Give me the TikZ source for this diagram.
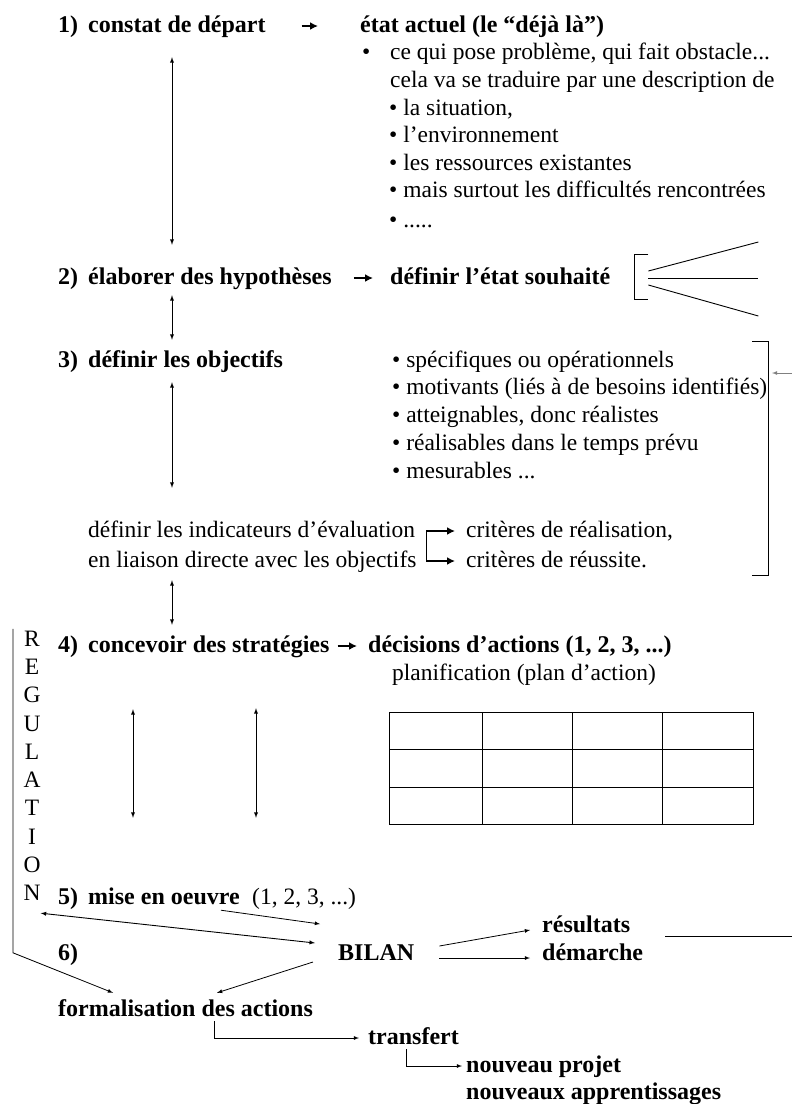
\documentclass[tikz,border=0pt]{standalone}
\usepackage{fontspec}
\setmainfont{Liberation Serif}
\usetikzlibrary{positioning,arrows,arrows.meta}

\begin{document}
\begin{tikzpicture}[x=1pt, y=-1pt, >=latex,
  txt/.style={anchor=base west, inner sep=0pt, text height=17pt, text depth=5pt, font=\fontsize{23.5}{28}\selectfont},
  gras/.style={txt, font=\fontsize{24}{28}\selectfont\bfseries},
  fl/.style={->, line width=0.8pt},
  dfl/.style={<->, line width=0.9pt},
  gros/.style={-{Latex[length=8pt,width=8pt]}, line width=2.4pt},
  trait/.style={line width=0.9pt}]
  \useasboundingbox (0,0) rectangle (792,1104);

  \node[gras] (num1) at (58,32) {1)};
  \node[gras] (p1) at (88,32) {constat de départ};
  \node[gras] (e1) at (360,32) {état actuel (le “déjà là”)};
  \node[txt] (b1) at (362,59) {\textbullet};
  \node[txt] (l1) at (390,59) {ce qui pose problème, qui fait obstacle...};
  \node[txt] (l2) at (390,87) {cela va se traduire par une description de};
  \foreach \t [count=\i from 0] in {{la situation,}, l’environnement, les ressources existantes, mais surtout les difficultés rencontrées}
    \node[txt] (ea\i) at (389,115+27.5*\i) {\textbullet\ \t};
  \node[txt] (ea4) at (389,227) {\textbullet\ .....};

  \node[gras] (num2) at (58,284) {2)};
  \node[gras] (p2) at (88,284) {élaborer des hypothèses};
  \node[gras] (e2) at (390,284) {définir l’état souhaité};

  \node[gras] (num3) at (58,367) {3)};
  \node[gras] (p3) at (88,367) {définir les objectifs};
  \foreach \t [count=\i from 0] in {spécifiques ou opérationnels, {motivants (liés à de besoins identifiés)}, {atteignables, donc réalistes}, réalisables dans le temps prévu}
    \node[txt] (ob\i) at (392,367+27.7*\i) {\textbullet\ \t};
  \node[txt] (ob4) at (392,478) {\textbullet\ mesurables ...};

  \node[txt] (ind1) at (88,537) {définir les indicateurs d’évaluation};
  \node[txt] (ind2) at (88,567) {en liaison directe avec les objectifs};
  \node[txt] (c1) at (466,537) {critères de réalisation,};
  \node[txt] (c2) at (466,567) {critères de réussite.};

  \foreach \l [count=\i from 0] in {R,E,G,U,L,A,T,I,O,N}
    \node[txt, anchor=base] (reg\i) at (32,646+28.33*\i) {\l};

  \node[gras] (num4) at (58,652) {4)};
  \node[gras] (p4) at (88,652) {concevoir des stratégies};
  \node[gras] (e4) at (368,652) {décisions d’actions (1, 2, 3, ...)};
  \node[txt] (planif) at (392,680) {planification (plan d’action)};

  \node[gras] (num5) at (58,904) {5)};
  \node[gras] (p5) at (88,904) {mise en oeuvre};
  \node[txt] (n5) at (252,904) {(1, 2, 3, ...)};
  \node[gras] (num6) at (58,960) {6)};
  \node[gras] (bilan) at (338,960) {BILAN};
  \node[gras] (res) at (542,932) {résultats};
  \node[gras] (dem) at (542,960) {démarche};
  \node[gras] (form) at (58,1016) {formalisation des actions};
  \node[gras] (transf) at (368,1044) {transfert};
  \node[gras] (np) at (466,1072) {nouveau projet};
  \node[gras] (na) at (466,1099) {nouveaux apprentissages};

  % fleches du texte
  \draw[gros, shorten <=36pt, shorten >=42pt] (p1.east) -- (e1.west);
  \draw[gros, shorten <=22pt, shorten >=17pt] (p2.east) -- (e2.west);
  \draw[gros, shorten <=8pt, shorten >=11pt] (p4.east) -- (e4.west);
  \draw[gros, shorten <=11pt, shorten >=11pt] (ind1.east) -- (c1.west);
  \draw[trait] ([xshift=11pt]ind1.east) -- ([xshift=11pt]ind1.east |- ind2.east);
  \draw[gros, shorten >=11pt] ([xshift=11pt]ind1.east |- ind2.east) -- (c2.west);

  \draw[dfl, shorten <=20pt, shorten >=22pt] ([xshift=84pt]p1.south west) -- ([xshift=84pt]p2.north west);
  \draw[dfl, shorten <=6pt, shorten >=10pt] ([xshift=84pt]p2.south west) -- ([xshift=84pt]p3.north west);
  \draw[dfl, shorten <=10pt, shorten >=32pt] ([xshift=84pt]p3.south west) -- ([xshift=84pt]ind1.north west);
  \draw[dfl, shorten <=8pt, shorten >=10pt] ([xshift=84pt]ind2.south west) -- ([xshift=84pt]p4.north west);
  \draw[dfl, shorten <=52pt, shorten >=69pt] ([xshift=45pt]p4.south west) -- ([xshift=45pt]p5.north west);
  \draw[dfl, shorten <=51pt, shorten >=69pt] ([xshift=168pt]p4.south west) -- ([xshift=168pt]p5.north west);

  % etat souhaite
  \draw[trait] ([shift={(38,-24)}]e2.east) -- ++(-14,0) -- ++(0,45) -- ++(14,0);
  \draw[trait] ([shift={(38,-7)}]e2.east) -- ++(110,-29);
  \draw[trait] ([shift={(38,0)}]e2.east) -- ++(110,0);
  \draw[trait] ([shift={(38,7)}]e2.east) -- ++(110,31);

  % objectifs
  \draw[trait] (752,341) -- (768,341) -- (768,575) -- (752,575);
  \draw[fl, gray] (792,373) -- (772,373);

  % plan d'action
  \draw[trait] (389,712) rectangle (753,824);
  \foreach \x in {482,572,662} \draw[trait] (\x,712) -- (\x,824);
  \foreach \y in {749,787} \draw[trait] (389,\y) -- (753,\y);

  % regulation et bilan
  \draw[fl] ([shift={(-11,0)}]reg0.north west) -- ++(0,324) -- ([shift={(55,-6)}]form.north west);
  \draw[dfl] ([shift={(0,7)}]reg9.south east) -- ([shift={(-23,-11)}]bilan.west);
  \draw[fl] ([shift={(-19,1)}]p5.south east) -- ([shift={(-18,-30)}]bilan.west);
  \draw[fl] ([shift={(-25,8)}]bilan.west) -- ([shift={(159,-6)}]form.north west);
  \draw[fl] ([shift={(25,-8)}]bilan.east) -- ([shift={(-12,4)}]res.west);
  \draw[fl] ([shift={(25,4)}]bilan.east) -- ([shift={(-12,4)}]dem.west);
  \draw[trait] ([shift={(35,10)}]res.east) -- ++(129,0);
  \draw[fl] ([shift={(156,0)}]form.south west) |- ([shift={(-9,0)}]transf.west);
  \draw[fl] ([shift={(38,0)}]transf.south west) |- ([shift={(-4,0)}]np.west);
\end{tikzpicture}
\end{document}
